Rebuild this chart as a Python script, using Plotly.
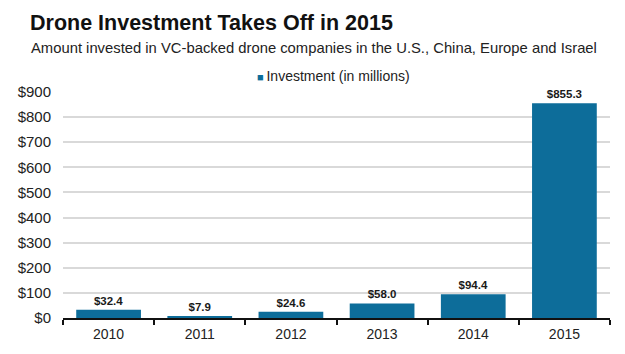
import plotly.graph_objects as go

years = ["2010", "2011", "2012", "2013", "2014", "2015"]
investment = [32.4, 7.9, 24.6, 58.0, 94.4, 855.3]
labels = ["$32.4", "$7.9", "$24.6", "$58.0", "$94.4", "$855.3"]
y_ticks = [0, 100, 200, 300, 400, 500, 600, 700, 800, 900]
y_tick_text = ["$" + str(v) for v in y_ticks]
series_name = "Investment (in millions)"

FONT = "Liberation Sans, Arial, sans-serif"
BAR = "#0D6D9A"

fig = go.Figure()
fig.add_trace(go.Bar(
    x=years, y=investment, name=series_name,
    marker=dict(color=BAR, line=dict(width=0)),
    text=labels, textposition="outside", cliponaxis=False,
    textfont=dict(family=FONT, size=11.5, color="#1a1a1a"),
    texttemplate="<b>%{text}</b>",
    showlegend=False,
))

fig.update_layout(
    width=625, height=354,
    margin=dict(l=63, r=15, t=92, b=25),
    paper_bgcolor="white", plot_bgcolor="white",
    bargap=0.29,
    font=dict(family=FONT, color="#222"),
    xaxis=dict(
        showline=True, linecolor="#111", linewidth=2,
        ticks="outside", tickson="boundaries", ticklen=5, tickcolor="#111", tickwidth=1.5,
        tickfont=dict(family=FONT, size=14, color="#222"),
        showgrid=False, ticklabelstandoff=2,
    ),
    yaxis=dict(
        range=[0, 900], tickvals=y_ticks, ticktext=y_tick_text,
        showgrid=True, gridcolor="#d9d9d9", gridwidth=1.5,
        zeroline=False, showline=False, ticks="",
        tickfont=dict(family=FONT, size=15, color="#222"),
        ticklabelstandoff=11,
    ),
)
fig.add_annotation(text="<b>Drone Investment Takes Off in 2015</b>",
                   xref="paper", yref="paper", x=-0.064, y=1.304, xanchor="left", yanchor="middle",
                   showarrow=False, font=dict(family=FONT, size=21.5, color="#111"))
fig.add_annotation(text="Amount invested in VC-backed drone companies in the U.S., China, Europe and Israel",
                   xref="paper", yref="paper", x=-0.063, y=1.194, xanchor="left", yanchor="middle",
                   showarrow=False, font=dict(family=FONT, size=14.8, color="#222"))
fig.add_annotation(text="<span style='color:" + BAR + ";font-size:11px'>■</span>\u2009" + series_name,
                   xref="paper", yref="paper", x=0.4945, y=1.072, xanchor="center", yanchor="middle",
                   showarrow=False, font=dict(family=FONT, size=14, color="#222"))

fig.write_html("out.html")
